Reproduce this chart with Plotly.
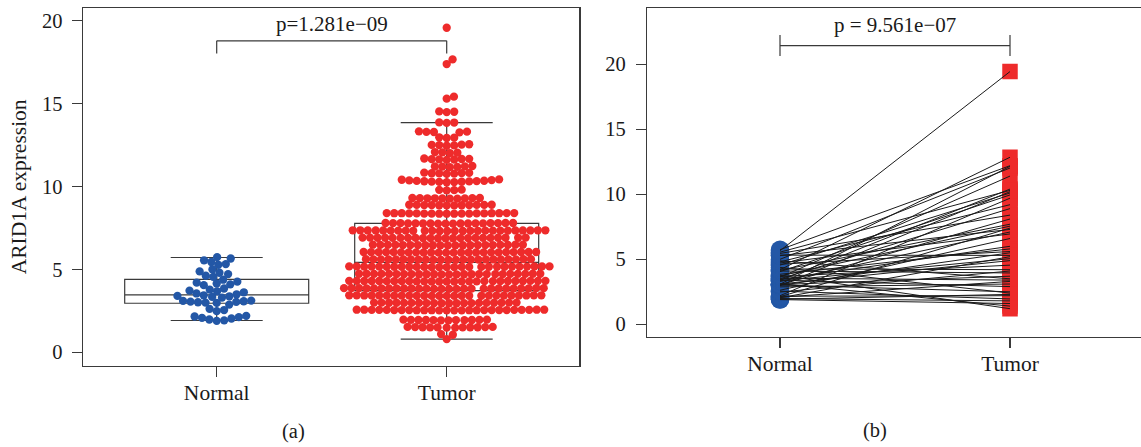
import math
import numpy as np
import plotly.graph_objects as go

# ---------------- data ----------------
categories = ["Normal", "Tumor"]
y_ticks = [0, 5, 10, 15, 20]
p_unpaired = "p=1.281e\u221209"
p_paired = "p = 9.561e\u221207"
panel_labels = ["(a)", "(b)"]
y_title = "ARID1A expression"

# box statistics: [Normal, Tumor]
box_q1 = [2.96, 3.72]
box_median = [3.46, 5.43]
box_q3 = [4.40, 7.78]
box_low = [1.92, 0.80]
box_high = [5.72, 13.86]

normal_values = [
    1.90, 1.93, 1.98, 2.04, 2.08, 2.12, 2.16, 2.20, 2.48, 2.55, 2.62, 2.88,
    2.98, 3.00, 3.02, 3.04, 3.06, 3.08, 3.10, 3.12, 3.30, 3.34, 3.38, 3.40, 3.44,
    3.50, 3.55, 3.62, 3.68, 3.72, 3.78, 3.85, 4.05, 4.10, 4.15, 4.20, 4.26, 4.38,
    4.55, 4.62, 4.72, 4.80, 4.88, 5.00, 5.28, 5.32, 5.45, 5.55, 5.66, 5.74,
]

# tumour value of the pair belonging to each normal sample (same order)
tumor_paired = [
    1.6, 2.3, 1.8, 5.2, 3.3, 7.4, 2.2, 9.7, 4.1, 1.95, 6.6, 3.1,
    10.2, 5.5, 2.5, 8.1, 3.7, 12.15, 4.9, 1.4, 7.1, 5.05, 10.4, 2.9, 6.0,
    8.9, 3.4, 11.4, 4.55, 7.55, 1.2, 5.8, 9.95, 3.95, 7.7, 12.85, 4.2, 2.4,
    10.1, 5.6, 6.95, 9.2, 3.5, 12.02, 7.3, 5.3, 8.4, 10.3, 19.44, 12.2,
]

tumor_values = [
    0.80,
    1.06, 1.10,
    1.49, 1.49, 1.50, 1.50, 1.51, 1.51, 1.51, 1.52, 1.52, 1.53, 1.53, 1.50,
    1.93, 1.93, 1.94, 1.94, 1.95, 1.95, 1.95, 1.96, 1.96, 1.97, 1.97, 1.94,
    2.53, 2.53, 2.53, 2.54, 2.54, 2.54, 2.54, 2.55, 2.55, 2.55, 2.55, 2.55, 2.55,
    2.56, 2.56, 2.56, 2.56, 2.56, 2.57, 2.57, 2.57, 2.57, 2.54, 2.55, 2.56, 2.53,
    2.96, 2.96, 2.97, 2.97, 2.97, 2.98, 2.98, 2.98, 2.98, 2.99,
    2.99, 2.99, 3.00, 3.00, 3.00, 2.97, 2.98, 2.99, 2.96, 3.00,
    3.40, 3.40, 3.40, 3.41, 3.41, 3.41, 3.41, 3.42, 3.42, 3.42, 3.42, 3.42, 3.42,
    3.43, 3.43, 3.43, 3.43, 3.43, 3.44, 3.44, 3.44, 3.44, 3.41, 3.42, 3.43, 3.40,
    3.83, 3.83, 3.83, 3.84, 3.84, 3.84, 3.84, 3.85, 3.85, 3.85, 3.85, 3.85, 3.85, 3.86,
    3.86, 3.86, 3.86, 3.86, 3.87, 3.87, 3.87, 3.87, 3.84, 3.85, 3.86, 3.83, 3.87,
    4.27, 4.27, 4.27, 4.28, 4.28, 4.28, 4.28, 4.29, 4.29, 4.29, 4.29, 4.29, 4.29, 4.30,
    4.30, 4.30, 4.30, 4.30, 4.31, 4.31, 4.31, 4.31, 4.28, 4.29, 4.30, 4.27, 4.31,
    4.70, 4.70, 4.70, 4.71, 4.71, 4.71, 4.71, 4.72, 4.72, 4.72, 4.72, 4.72, 4.72,
    4.73, 4.73, 4.73, 4.73, 4.73, 4.74, 4.74, 4.74, 4.74, 4.71, 4.72, 4.73,
    5.14, 5.14, 5.14, 5.15, 5.15, 5.15, 5.15, 5.16, 5.16, 5.16, 5.16, 5.16, 5.16, 5.17,
    5.17, 5.17, 5.17, 5.17, 5.18, 5.18, 5.18, 5.18, 5.15, 5.16, 5.17, 5.14, 5.18,
    5.58, 5.58, 5.58, 5.59, 5.59, 5.59, 5.59, 5.60, 5.60, 5.60, 5.60, 5.60,
    5.61, 5.61, 5.61, 5.61, 5.62, 5.62, 5.62, 5.59, 5.60, 5.61, 5.58,
    6.01, 6.01, 6.01, 6.02, 6.02, 6.02, 6.02, 6.03, 6.03, 6.03, 6.03, 6.03,
    6.03, 6.04, 6.04, 6.04, 6.04, 6.04, 6.05, 6.05, 6.05, 6.05, 6.02, 6.04,
    6.45, 6.45, 6.45, 6.46, 6.46, 6.46, 6.46, 6.47, 6.47, 6.47, 6.47, 6.47,
    6.48, 6.48, 6.48, 6.48, 6.48, 6.49, 6.49, 6.49, 6.47,
    6.88, 6.88, 6.88, 6.89, 6.89, 6.89, 6.89, 6.90, 6.90, 6.90, 6.90, 6.90,
    6.90, 6.91, 6.91, 6.91, 6.91, 6.91, 6.92, 6.92, 6.92, 6.90,
    7.32, 7.32, 7.32, 7.32, 7.33, 7.33, 7.33, 7.33, 7.33, 7.34, 7.34, 7.34, 7.34,
    7.34, 7.34, 7.34, 7.35, 7.35, 7.35, 7.35, 7.35, 7.35, 7.36, 7.36, 7.36, 7.36,
    7.76, 7.76, 7.76, 7.77, 7.77, 7.77, 7.77, 7.78, 7.78,
    7.78, 7.78, 7.79, 7.79, 7.79, 7.79, 7.80, 7.80, 7.80,
    8.36, 8.36, 8.36, 8.37, 8.37, 8.37, 8.37, 8.38, 8.38,
    8.38, 8.38, 8.39, 8.39, 8.39, 8.39, 8.40, 8.40, 8.40,
    8.86, 8.86, 8.87, 8.87, 8.88, 8.88, 8.88, 8.89, 8.89, 8.89, 8.90, 8.90,
    9.27, 9.27, 9.28, 9.28, 9.29, 9.29, 9.30, 9.30, 9.31, 9.31,
    9.77, 9.78, 9.80, 9.81,
    10.26, 10.27, 10.28, 10.29, 10.30, 10.31, 10.32, 10.33, 10.34, 10.35, 10.37, 10.39, 10.41, 10.43,
    10.76, 10.78, 10.79, 10.80, 10.81, 10.82, 10.84,
    11.17, 11.19, 11.20, 11.21, 11.22, 11.24,
    11.61, 11.63, 11.64, 11.65, 11.66, 11.67, 11.69,
    12.02, 12.04, 12.06, 12.08,
    12.46, 12.48, 12.50, 12.51, 12.53, 12.55,
    12.93, 12.95, 12.97,
    13.27, 13.29, 13.30, 13.31, 13.33,
    13.84, 13.86, 13.87,
    14.49, 14.51, 14.53,
    15.30, 15.42,
    17.39, 17.67,
    19.58,
]

# ---------------- styling / geometry ----------------
W, H = 1141, 447
FONT = "Liberation Serif, Times New Roman, serif"
BLUE = "#2357A6"
RED = "#EE2B2B"
AXC = "#3a3a3a"
TXT = "#1a1a1a"

A_L, A_R, A_T, A_B = 82.7, 579.3, 8.0, 365.7
B_L, B_R, B_T, B_B = 647.0, 1141.0, 8.0, 336.7
A_XR = [0.4174, 2.5765]
A_YR = [-0.808, 20.77]
B_XR = [0.4217, 2.5696]
B_YR = [-0.954, 24.33]


def px_x(p):
    return p / W


def px_y(p):
    return 1 - p / H


def swarm_offsets(values, diam_px, xppu, yppu):
    """beeswarm 'swarm' layout: returns x offsets in data units"""
    vals = np.asarray(values, dtype=float)
    order = np.argsort(vals, kind="stable")
    px_list, py_list = [], []
    out = np.zeros(len(vals))
    for i in order:
        y = vals[i] * yppu
        chosen = 0.0
        if px_list:
            PX = np.array(px_list)
            PY = np.array(py_list)
            dy = np.abs(PY - y)
            m = dy < diam_px
            if np.any(m):
                PXn = PX[m]
                h = np.sqrt(diam_px ** 2 - dy[m] ** 2)
                lo = PXn - h
                hi = PXn + h
                cands = np.concatenate([[0.0], lo, hi])
                idx = np.lexsort((-cands, np.abs(cands)))
                for c in cands[idx]:
                    if not np.any((c > lo + 1e-6) & (c < hi - 1e-6)):
                        chosen = c
                        break
        px_list.append(chosen)
        py_list.append(y)
        out[i] = chosen / xppu
    return out


xppu_a = (A_R - A_L) / (A_XR[1] - A_XR[0])
yppu_a = (A_B - A_T) / (A_YR[1] - A_YR[0])
DIAM = 7.5

fig = go.Figure()

# ---------- panel (a): boxes ----------
for k, pos in enumerate((1, 2)):
    fig.add_trace(go.Box(
        x=[pos], q1=[box_q1[k]], median=[box_median[k]], q3=[box_q3[k]],
        lowerfence=[box_low[k]], upperfence=[box_high[k]],
        width=0.8, whiskerwidth=0.5, boxpoints=False,
        fillcolor="rgba(255,255,255,0)", line=dict(color=AXC, width=1.2),
        xaxis="x", yaxis="y", showlegend=False, hoverinfo="skip",
    ))

# ---------- panel (a): swarms ----------
for pos, vals, col in ((1, normal_values, BLUE), (2, tumor_values, RED)):
    off = swarm_offsets(vals, DIAM, xppu_a, yppu_a)
    fig.add_trace(go.Scatter(
        x=pos + off, y=vals, mode="markers",
        marker=dict(size=8.3, color=col, line=dict(width=0)),
        xaxis="x", yaxis="y", showlegend=False, hoverinfo="skip",
    ))

# ---------- panel (b): paired ----------
fig.add_trace(go.Scatter(
    x=[1] * len(normal_values), y=normal_values, mode="markers",
    marker=dict(size=18.5, color=BLUE, line=dict(width=0)),
    xaxis="x2", yaxis="y2", showlegend=False, hoverinfo="skip",
))
fig.add_trace(go.Scatter(
    x=[2] * len(tumor_paired), y=tumor_paired, mode="markers",
    marker=dict(size=15.5, color=RED, symbol="square", line=dict(width=0)),
    xaxis="x2", yaxis="y2", showlegend=False, hoverinfo="skip",
))
lx, ly = [], []
for n_v, t_v in zip(normal_values, tumor_paired):
    lx += [1, 2, None]
    ly += [n_v, t_v, None]
fig.add_trace(go.Scatter(
    x=lx, y=ly, mode="lines", line=dict(color="#1a1a1a", width=1),
    xaxis="x2", yaxis="y2", showlegend=False, hoverinfo="skip",
))

# ---------- brackets ----------
shapes = []


def seg(xr, yr, x0, y0, x1, y1):
    shapes.append(dict(type="line", xref=xr, yref=yr, x0=x0, y0=y0, x1=x1, y1=y1,
                       line=dict(color=AXC, width=1.2)))


seg("x", "y", 1, 18.03, 1, 18.79)
seg("x", "y", 1, 18.79, 2, 18.79)
seg("x", "y", 2, 18.79, 2, 18.03)
seg("x2", "y2", 1, 20.64, 1, 22.25)
seg("x2", "y2", 2, 20.64, 2, 22.25)
seg("x2", "y2", 1, 21.43, 2, 21.43)

annotations = [
    dict(text=p_unpaired, xref="x", yref="y", x=1.5, y=19.80, showarrow=False,
         font=dict(family=FONT, size=21, color=TXT), xanchor="center", yanchor="middle"),
    dict(text=p_paired, xref="x2", yref="y2", x=1.5, y=23.05, showarrow=False,
         font=dict(family=FONT, size=21, color=TXT), xanchor="center", yanchor="middle"),
    dict(text=y_title, xref="paper", yref="paper", x=px_x(18.5), y=px_y((A_T + A_B) / 2),
         textangle=-90, showarrow=False, font=dict(family=FONT, size=21.5, color=TXT),
         xanchor="center", yanchor="middle"),
    dict(text=panel_labels[0], xref="paper", yref="paper", x=px_x(293), y=px_y(431.7),
         showarrow=False, font=dict(family=FONT, size=20.5, color=TXT),
         xanchor="center", yanchor="middle"),
    dict(text=panel_labels[1], xref="paper", yref="paper", x=px_x(875), y=px_y(430.7),
         showarrow=False, font=dict(family=FONT, size=20.5, color=TXT),
         xanchor="center", yanchor="middle"),
]

axis_common = dict(showgrid=False, zeroline=False, showline=True, linecolor=AXC, linewidth=1.2,
                   ticks="outside", ticklen=10, tickwidth=1.2, tickcolor=AXC)
xfont = dict(family=FONT, size=21.5, color=TXT)
yfont = dict(family=FONT, size=20.5, color=TXT)

fig.update_layout(
    width=W, height=H, margin=dict(l=0, r=0, t=0, b=0),
    paper_bgcolor="white", plot_bgcolor="white",
    xaxis=dict(domain=[px_x(A_L), px_x(A_R)], range=A_XR, tickvals=[1, 2], ticktext=categories,
               mirror=True, anchor="y", ticklabelstandoff=-3, tickfont=xfont, **axis_common),
    yaxis=dict(domain=[px_y(A_B), px_y(A_T)], range=A_YR, tickvals=y_ticks,
               mirror=True, anchor="x", ticklabelstandoff=5, tickfont=yfont, **axis_common),
    xaxis2=dict(domain=[px_x(B_L), px_x(B_R)], range=B_XR, tickvals=[1, 2], ticktext=categories,
                mirror=True, anchor="y2", ticklabelstandoff=-3, tickfont=xfont, **axis_common),
    yaxis2=dict(domain=[px_y(B_B), px_y(B_T)], range=B_YR, tickvals=y_ticks,
                mirror=False, anchor="x2", ticklabelstandoff=6, tickfont=yfont, **axis_common),
    shapes=shapes, annotations=annotations, showlegend=False,
)

fig.write_html(
    "out.html",
    config={"displayModeBar": False, "staticPlot": True},
    post_script="document.body.style.margin='0';document.body.style.overflow='hidden';",
)
